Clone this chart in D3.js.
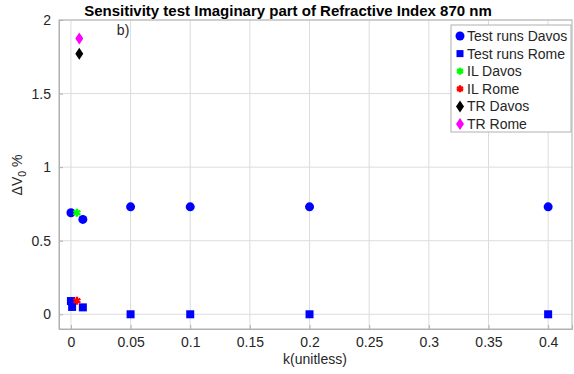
<!DOCTYPE html>
<html>
<head>
<meta charset="utf-8">
<style>
body { margin: 0; background: #fff; }
text { font-family: "Liberation Sans", Arial, sans-serif; }
</style>
</head>
<body>
<script src="https://d3js.org/d3.v7.min.js"></script>
<script>

// data
var davosK = [0, 0.01, 0.05, 0.1, 0.2, 0.4];
var davosV = [0.69, 0.645, 0.73, 0.73, 0.73, 0.73];
var romeK = [0, 0.001, 0.01, 0.05, 0.1, 0.2, 0.4];
var romeV = [0.09, 0.05, 0.047, 0, 0, 0, 0];
var ilDavos = [[0.005, 0.69]];
var ilRome = [[0.005, 0.092]];
var trDavos = [[0.007, 1.77]];
var trRome = [[0.007, 1.875]];
var xTicks = [0, 0.05, 0.1, 0.15, 0.2, 0.25, 0.3, 0.35, 0.4];
var yTicks = [0, 0.5, 1, 1.5, 2];
var legendNames = ["Test runs Davos", "Test runs Rome", "IL Davos", "IL Rome", "TR Davos", "TR Rome"];

var W = 574, H = 374;
var margin = {top: 20, right: 2, bottom: 45, left: 59};
var width = W - margin.left - margin.right,
    height = H - margin.top - margin.bottom;
var fs = 14;

var svg = d3.select("body").append("svg")
    .attr("width", W)
    .attr("height", H);
var g = svg.append("g")
    .attr("transform", "translate(" + margin.left + "," + margin.top + ")");

var x = d3.scaleLinear().domain([-0.01, 0.42]).range([0, width]);
var y = d3.scaleLinear().domain([-0.1, 2]).range([height, 0]);

// grid
g.append("g").selectAll("line").data(xTicks).enter().append("line")
    .attr("x1", d => x(d)).attr("x2", d => x(d))
    .attr("y1", 0).attr("y2", height)
    .attr("stroke", "#dcdcdc").attr("stroke-width", 1);
g.append("g").selectAll("line").data(yTicks).enter().append("line")
    .attr("y1", d => y(d)).attr("y2", d => y(d))
    .attr("x1", 0).attr("x2", width)
    .attr("stroke", "#dcdcdc").attr("stroke-width", 1);

// axes
var xAxis = g.append("g")
    .attr("transform", "translate(0," + height + ")")
    .call(d3.axisBottom(x).tickValues(xTicks).tickSize(-4).tickPadding(8).tickFormat(d => d3.format("")(+d.toFixed(2))));
var yAxis = g.append("g")
    .call(d3.axisLeft(y).tickValues(yTicks).tickSize(-4).tickPadding(8).tickFormat(d => d3.format("")(d)));
[xAxis, yAxis].forEach(a => {
    a.select(".domain").attr("stroke", "#b0b0b0");
    a.selectAll(".tick line").attr("stroke", "#b0b0b0");
    a.selectAll("text").attr("font-size", fs).attr("fill", "#262626")
        .attr("font-family", "Liberation Sans, Arial, sans-serif");
});
// box
g.append("rect").attr("width", width).attr("height", height)
    .attr("fill", "none").attr("stroke", "#b0b0b0");

// markers
var diamond = "M0,-6L4,0L0,6L-4,0Z";
function starPath(r) {
    var p = "";
    for (var k = 0; k < 3; k++) {
        var a = k * Math.PI / 3 + Math.PI / 2;
        p += "M" + (r * Math.cos(a)) + "," + (r * Math.sin(a)) + "L" + (-r * Math.cos(a)) + "," + (-r * Math.sin(a));
    }
    return p;
}

g.append("g").selectAll("circle").data(davosK).enter().append("circle")
    .attr("cx", d => x(d)).attr("cy", (d, i) => y(davosV[i]))
    .attr("r", 4.5).attr("fill", "#0000ff");
g.append("g").selectAll("rect").data(romeK).enter().append("rect")
    .attr("x", d => x(d) - 4).attr("y", (d, i) => y(romeV[i]) - 4)
    .attr("width", 8).attr("height", 8).attr("fill", "#0000ff");
g.append("g").selectAll("path").data(ilDavos).enter().append("path")
    .attr("transform", d => "translate(" + x(d[0]) + "," + y(d[1]) + ")")
    .attr("d", starPath(4)).attr("stroke", "#00ff00").attr("stroke-width", 2.5);
g.append("g").selectAll("path").data(ilRome).enter().append("path")
    .attr("transform", d => "translate(" + x(d[0]) + "," + y(d[1]) + ")")
    .attr("d", starPath(4)).attr("stroke", "#ff0000").attr("stroke-width", 2.5);
g.append("g").selectAll("path").data(trDavos).enter().append("path")
    .attr("transform", d => "translate(" + x(d[0]) + "," + y(d[1]) + ")")
    .attr("d", diamond).attr("fill", "#000");
g.append("g").selectAll("path").data(trRome).enter().append("path")
    .attr("transform", d => "translate(" + x(d[0]) + "," + y(d[1]) + ")")
    .attr("d", diamond).attr("fill", "#ff00ff");

// "b)" annotation
g.append("text").attr("x", x(0.0385)).attr("y", y(1.895))
    .attr("font-size", fs).attr("fill", "#262626").text("b)");

// title
svg.append("text").attr("x", 288).attr("y", 16)
    .attr("text-anchor", "middle").attr("font-size", 15).attr("font-weight", "bold")
    .text("Sensitivity test Imaginary part of Refractive Index 870 nm");

// axis labels
svg.append("text").attr("x", 315).attr("y", 364)
    .attr("text-anchor", "middle").attr("font-size", fs).attr("fill", "#262626")
    .text("k(unitless)");
var yl = svg.append("text").attr("transform", "translate(22,175) rotate(-90)")
    .attr("text-anchor", "middle").attr("font-size", fs).attr("fill", "#262626");
yl.append("tspan").text("ΔV");
yl.append("tspan").attr("dy", 4).attr("font-size", 10.5).text("0");
yl.append("tspan").attr("dy", -4).text(" %");

// legend
var lg = svg.append("g").attr("transform", "translate(451,25)");
lg.append("rect").attr("width", 120).attr("height", 107)
    .attr("fill", "#fff").attr("stroke", "#b0b0b0");
var rowY = d3.scaleLinear().domain([0, 5]).range([11, 99]);
lg.selectAll("text").data(legendNames).enter().append("text")
    .attr("x", 16).attr("y", (d, i) => rowY(i) + 5)
    .attr("font-size", fs).attr("fill", "#262626").text(d => d);
lg.append("circle").attr("cx", 9).attr("cy", rowY(0)).attr("r", 4.5).attr("fill", "#0000ff");
lg.append("rect").attr("x", 5.5).attr("y", rowY(1) - 3.5).attr("width", 7).attr("height", 7).attr("fill", "#0000ff");
lg.append("path").attr("transform", "translate(9," + rowY(2) + ")").attr("d", starPath(3.5)).attr("stroke", "#00ff00").attr("stroke-width", 2.5);
lg.append("path").attr("transform", "translate(9," + rowY(3) + ")").attr("d", starPath(3.5)).attr("stroke", "#ff0000").attr("stroke-width", 2.5);
lg.append("path").attr("transform", "translate(9," + rowY(4) + ")").attr("d", diamond).attr("fill", "#000");
lg.append("path").attr("transform", "translate(9," + rowY(5) + ")").attr("d", diamond).attr("fill", "#ff00ff");

</script>
</body>
</html>
